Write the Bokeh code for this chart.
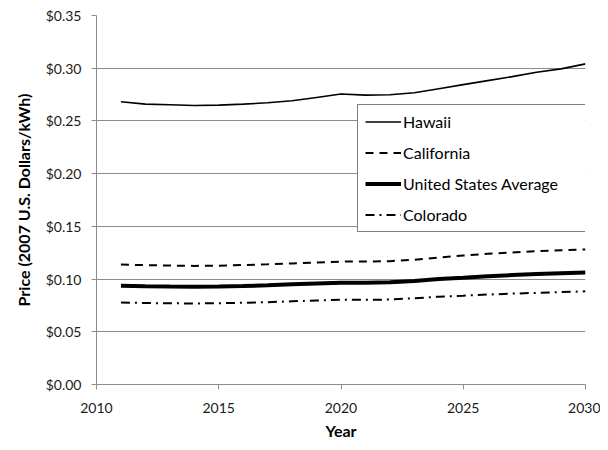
from bokeh.plotting import figure
from bokeh.models import Range1d, FixedTicker, NumeralTickFormatter, Legend, LegendItem
from bokeh.embed import file_html
from bokeh.resources import INLINE

years = list(range(2011, 2031))
hawaii = [0.2682, 0.2659, 0.2653, 0.2647, 0.2650, 0.2659, 0.2672, 0.2691, 0.2723, 0.2755,
          0.2745, 0.2748, 0.2768, 0.2806, 0.2844, 0.2882, 0.2920, 0.2962, 0.2994, 0.3041]
california = [0.1138, 0.1132, 0.1128, 0.1125, 0.1127, 0.1133, 0.1140, 0.1148, 0.1158, 0.1166,
              0.1166, 0.1170, 0.1183, 0.1205, 0.1223, 0.1240, 0.1253, 0.1264, 0.1273, 0.1281]
us_average = [0.0937, 0.0932, 0.0929, 0.0928, 0.0930, 0.0934, 0.0941, 0.0950, 0.0959, 0.0966,
              0.0966, 0.0970, 0.0982, 0.1000, 0.1013, 0.1027, 0.1038, 0.1047, 0.1055, 0.1063]
colorado = [0.0778, 0.0773, 0.0770, 0.0769, 0.0771, 0.0775, 0.0781, 0.0789, 0.0797, 0.0803,
            0.0803, 0.0806, 0.0818, 0.0833, 0.0842, 0.0853, 0.0862, 0.0869, 0.0876, 0.0884]
x_ticks = [2010, 2015, 2020, 2025, 2030]
y_ticks = [0.0, 0.05, 0.10, 0.15, 0.20, 0.25, 0.30, 0.35]

FONT = "Lato"
GRID = "#8c8c8c"

p = figure(width=600, height=442, output_backend="svg", toolbar_location=None,
           x_range=Range1d(2010, 2030), y_range=Range1d(0, 0.35),
           min_border_left=96, min_border_right=15, min_border_top=15, min_border_bottom=54)
p.outline_line_color = None
p.background_fill_color = "white"
p.border_fill_color = "white"

p.xgrid.grid_line_color = None
p.ygrid.grid_line_color = GRID
p.ygrid.grid_line_width = 1
p.ygrid.ticker = FixedTicker(ticks=y_ticks)

p.xaxis.ticker = FixedTicker(ticks=x_ticks)
p.yaxis.ticker = FixedTicker(ticks=y_ticks)
p.yaxis.formatter = NumeralTickFormatter(format="$0.00")

for ax in (p.xaxis[0], p.yaxis[0]):
    ax.axis_line_color = GRID
    ax.major_tick_line_color = GRID
    ax.major_tick_out = 5
    ax.major_tick_in = 0
    ax.minor_tick_line_color = None
    ax.major_label_text_font = FONT
    ax.major_label_text_font_size = "14px"
    ax.major_label_text_color = "#1a1a1a"
    ax.axis_label_text_font = FONT
    ax.axis_label_text_font_size = "16px"
    ax.axis_label_text_font_style = "bold"
    ax.axis_label_text_color = "black"

p.xaxis.axis_label = "Year"
p.yaxis.axis_label = "Price (2007 U.S. Dollars/kWh)"
p.xaxis.major_label_standoff = 13
p.yaxis.major_label_standoff = 10
p.xaxis.axis_label_standoff = 5
p.yaxis.axis_label_standoff = 10

r_h = p.line(years, hawaii, line_color="black", line_width=1.6)
r_c = p.line(years, california, line_color="black", line_width=2, line_dash="8 6")
r_u = p.line(years, us_average, line_color="black", line_width=4)
r_co = p.line(years, colorado, line_color="black", line_width=2, line_dash="9 5 2 5")

legend = Legend(items=[
    LegendItem(label="Hawaii", renderers=[r_h]),
    LegendItem(label="California", renderers=[r_c]),
    LegendItem(label="United States Average", renderers=[r_u]),
    LegendItem(label="Colorado", renderers=[r_co]),
], location=(261, 152))
legend.margin = 0
legend.padding = 7
legend.spacing = 12
legend.glyph_width = 36
legend.glyph_height = 19
legend.label_height = 19
legend.label_width = 176
legend.label_standoff = 2
legend.label_text_font = FONT
legend.label_text_font_size = "16px"
legend.label_text_color = "black"
legend.border_line_color = "black"
legend.border_line_width = 1
legend.background_fill_color = "white"
legend.background_fill_alpha = 1
p.add_layout(legend, "center")

open("out.html", "w").write(file_html(p, INLINE))
